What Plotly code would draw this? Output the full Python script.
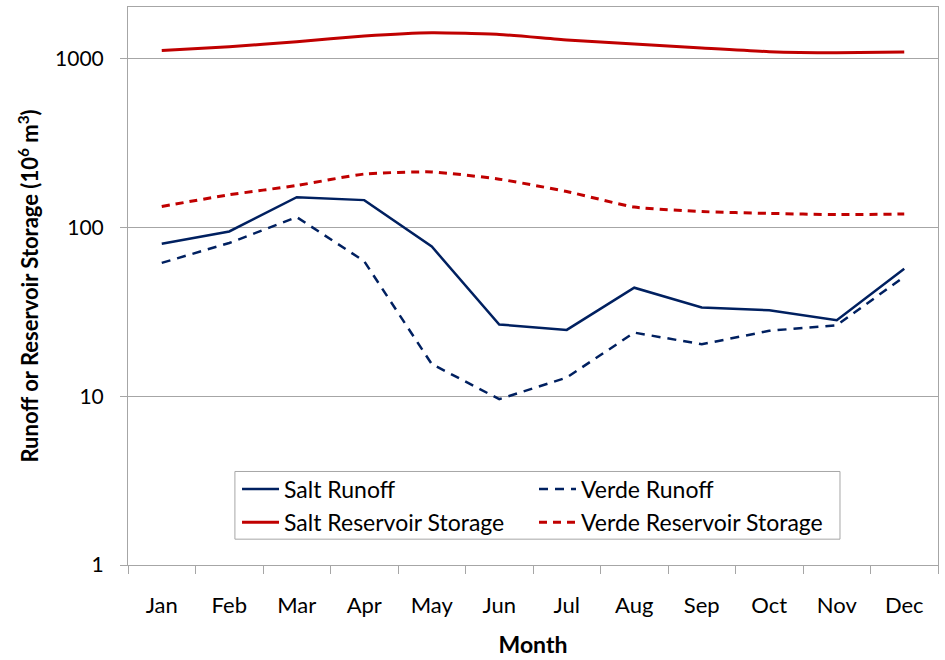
import math
import plotly.graph_objects as go

months = ["Jan", "Feb", "Mar", "Apr", "May", "Jun", "Jul", "Aug", "Sep", "Oct", "Nov", "Dec"]
salt_runoff = [80, 94.6, 151, 145, 77, 26.6, 24.7, 43.9, 33.5, 32.3, 28.2, 56.8]
verde_runoff = [61.6, 80.8, 115, 63, 15.5, 9.6, 12.9, 23.8, 20.3, 24.4, 26.3, 51]
salt_storage = [1117, 1175, 1258, 1359, 1421, 1389, 1287, 1219, 1155, 1098, 1083, 1094]
verde_storage = [133, 156, 177, 207, 213, 193, 163, 132, 124, 121, 119, 120]
y_ticks = [1, 10, 100, 1000]

NAVY = "#002060"
RED = "#C00000"
GRID = "#A6A6A6"
FONT = "Lato"

fig = go.Figure()
fig.add_trace(go.Scatter(x=months, y=salt_runoff, name="Salt Runoff", mode="lines",
                         line=dict(color=NAVY, width=2.5), legend="legend"))
fig.add_trace(go.Scatter(x=months, y=verde_runoff, name="Verde Runoff", mode="lines",
                         line=dict(color=NAVY, width=2.5, dash="9px,7px"), legend="legend"))
fig.add_trace(go.Scatter(x=months, y=salt_storage, name="Salt Reservoir Storage", mode="lines",
                         line=dict(color=RED, width=3, shape="spline", smoothing=0.5),
                         legend="legend2"))
fig.add_trace(go.Scatter(x=months, y=verde_storage, name="Verde Reservoir Storage", mode="lines",
                         line=dict(color=RED, width=3, dash="8px,6px", shape="spline", smoothing=0.5),
                         legend="legend2"))

legend_common = dict(
    orientation="h", xanchor="left", yanchor="middle",
    entrywidth=245, entrywidthmode="pixels", itemwidth=37,
    borderwidth=0, bgcolor="rgba(0,0,0,0)",
    font=dict(family=FONT, size=23, color="black"),
    traceorder="normal",
)

fig.update_layout(
    width=945, height=660,
    margin=dict(l=128, r=7, t=6, b=93),
    paper_bgcolor="white", plot_bgcolor="white",
    font=dict(family=FONT, size=21, color="black"),
    showlegend=True,
    legend=dict(x=0.1346, y=0.136, **legend_common),
    legend2=dict(x=0.1346, y=0.0766, **legend_common),
    shapes=[dict(type="rect", xref="paper", yref="paper",
                 x0=0.132, x1=0.879, y0=0.0463, y1=0.1676,
                 line=dict(color=GRID, width=1), fillcolor="rgba(0,0,0,0)", layer="above")],
    xaxis=dict(
        type="category", categoryorder="array", categoryarray=months,
        range=[-0.5, 11.5],
        tickson="boundaries", ticks="outside", ticklen=8, tickcolor=GRID,
        showline=True, linecolor=GRID, linewidth=1, mirror=True,
        showgrid=False, ticklabelstandoff=21,
        tickfont=dict(family=FONT, size=22),
        title=dict(text="<b>Month</b>", font=dict(family=FONT, size=23), standoff=19),
    ),
    yaxis=dict(
        type="log", range=[0, math.log10(2020)],
        tickvals=y_ticks, ticktext=[str(v) for v in y_ticks],
        ticks="outside", ticklen=7, tickcolor=GRID,
        showline=True, linecolor=GRID, linewidth=1, mirror=True,
        showgrid=True, gridcolor=GRID, gridwidth=1,
        ticklabelstandoff=12, zeroline=False,
        tickfont=dict(family=FONT, size=21),
        title=dict(text="<b>Runoff or Reservoir Storage (10<sup>6</sup> m<sup>3</sup>)</b>",
                   font=dict(family=FONT, size=22), standoff=10),
    ),
)

fig.write_html("out.html", config={"displayModeBar": False},
               post_script="document.body.style.margin='0';")
